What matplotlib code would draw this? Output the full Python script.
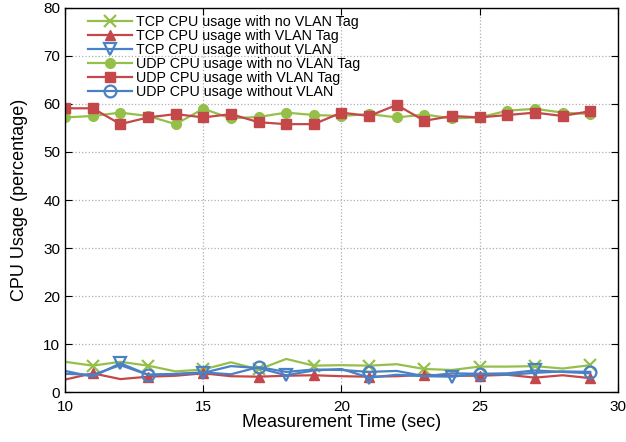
import matplotlib
matplotlib.use('Agg')
import matplotlib.pyplot as plt

plt.rcParams['font.family'] = ['Liberation Sans', 'DejaVu Sans']

t = list(range(10, 30))

tcp_novlan = [6.3, 5.5, 6.3, 5.5, 4.3, 4.7, 6.2, 4.7, 6.9, 5.5,
              5.6, 5.5, 5.8, 4.8, 4.6, 5.3, 5.3, 5.4, 4.9, 5.6]
tcp_vlan = [2.6, 3.9, 2.7, 3.2, 3.4, 3.9, 3.3, 3.2, 3.4, 3.5,
            3.3, 3.2, 3.3, 3.6, 3.4, 3.4, 3.6, 3.0, 3.5, 2.9]
tcp_without = [4.4, 3.2, 6.0, 3.6, 3.7, 4.0, 5.4, 5.0, 3.5, 4.5,
               4.8, 3.0, 3.6, 3.3, 3.2, 3.8, 3.9, 4.5, 4.2, 3.9]
udp_novlan = [57.2, 57.5, 58.2, 57.5, 55.8, 59.0, 57.0, 57.3, 58.2, 57.7,
              57.5, 57.9, 57.2, 57.8, 57.0, 57.2, 58.6, 59.0, 58.2, 57.9]
udp_vlan = [59.1, 59.1, 55.8, 57.2, 57.9, 57.2, 57.9, 56.2, 55.8, 55.8,
            58.2, 57.5, 59.8, 56.5, 57.5, 57.2, 57.7, 58.2, 57.5, 58.5]
udp_without = [3.8, 3.6, 5.6, 3.6, 3.8, 4.1, 3.7, 5.2, 4.2, 4.7,
               4.6, 4.2, 4.4, 3.3, 3.9, 3.8, 3.6, 4.0, 4.3, 4.2]

green = '#94c04a'
red = '#c4474a'
blue = '#4a80c4'

fig = plt.figure(figsize=(6.26, 4.42), dpi=100)
ax = fig.add_axes([0.104, 0.113, 0.883, 0.869])

ax.plot(t, tcp_novlan, color=green, lw=1.6, marker='x', ms=8, mew=1.6,
        markevery=(1, 2), label='TCP CPU usage with no VLAN Tag')
ax.plot(t, tcp_vlan, color=red, lw=1.6, marker='^', ms=6.5,
        markevery=(1, 2), label='TCP CPU usage with VLAN Tag')
ax.plot(t, tcp_without, color=blue, lw=1.6, marker='v', ms=8, mew=1.6,
        mfc='none', markevery=(2, 3), label='TCP CPU usage without VLAN')
ax.plot(t, udp_novlan, color=green, lw=1.6, marker='o', ms=7,
        label='UDP CPU usage with no VLAN Tag')
ax.plot(t, udp_vlan, color=red, lw=1.6, marker='s', ms=7.5,
        label='UDP CPU usage with VLAN Tag')
ax.plot(t, udp_without, color=blue, lw=1.6, marker='o', ms=8.5, mew=1.6,
        mfc='none', markevery=(3, 4), label='UDP CPU usage without VLAN')

ax.set_xlim(10, 30)
ax.set_ylim(0, 80)
ax.set_xticks(range(10, 31, 5))
ax.set_yticks(range(0, 81, 10))
ax.tick_params(direction='in', top=True, right=True, labelsize=11, length=5)
ax.tick_params(axis='x', pad=6)
ax.grid(True, color='#b0b0b0', ls=':', lw=0.9)
for s in ax.spines.values():
    s.set_linewidth(1.0)

ax.set_xlabel('Measurement Time (sec)', fontsize=13, labelpad=0)
ax.set_ylabel('CPU Usage (percentage)', fontsize=13, labelpad=11)

ax.legend(loc='upper left', bbox_to_anchor=(0.02, 1.012), frameon=False,
          fontsize=10.3, handlelength=3.1, labelspacing=0.0,
          handletextpad=0.3, borderpad=0.3, numpoints=1)

fig.savefig('out.png', dpi=100)
